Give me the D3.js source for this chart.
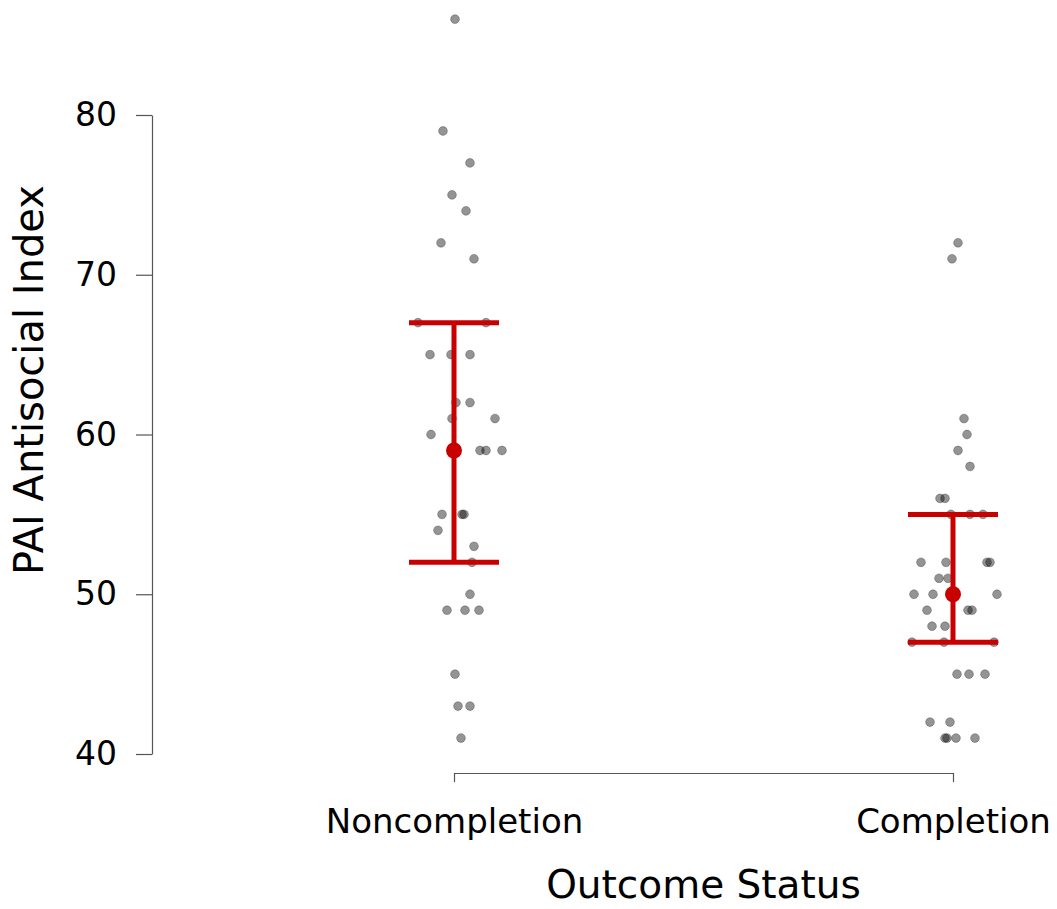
<!DOCTYPE html>
<html>
<head>
<meta charset="utf-8">
<script src="https://cdn.jsdelivr.net/npm/d3@7"></script>
<style>
  html, body { margin: 0; padding: 0; background: #fff; }
  svg text { font-family: "DejaVu Sans", sans-serif; fill: #000; }
</style>
</head>
<body>
<svg id="chart" width="1057" height="909"></svg>
<script>
// categories and raw scores (x jitter in px from the group centre)
var categories = ['Noncompletion', 'Completion'];

var noncompletionScores = [86, 79, 77, 75, 74, 72, 71, 67, 67, 65, 65, 65, 62, 62, 61, 61, 60,
  59, 59, 59, 55, 55, 55, 54, 53, 52, 50, 49, 49, 49, 45, 43, 43, 41];
var noncompletionJitter = [1, -11, 16, -2, 12, -13, 20, -36, 32, -24, -3, 16, 2, 16, -2, 41, -23,
  26, 32, 48, -12, 8, 10, -16, 20, 18, 16, -7, 11, 25, 1, 4, 16, 7];

var completionScores = [72, 71, 61, 60, 59, 58, 56, 56, 55, 55, 55, 52, 52, 52, 52, 51, 51,
  50, 50, 50, 49, 49, 49, 48, 48, 47, 47, 47, 45, 45, 45, 42, 42, 41, 41, 41, 41];
var completionJitter = [5, -1, 11, 14, 5, 17, -13, -8, -2, 17, 30, -32, -7, 34, 37, -14, -5,
  -39, -20, 44, -26, 15, 19, -21, -8, -41, -9, 41, 4, 16, 32, -23, -3, -8, -6, 3, 22];

// centre point and error bar ends
var centres = [59, 50];
var lowers = [52, 47];
var uppers = [67, 55];

var yTicks = [40, 50, 60, 70, 80];

var svg = d3.select('#chart');

var y = d3.scaleLinear().domain([40, 80]).range([754, 115]);
var x = d3.scalePoint().domain(categories).range([454, 953]);

// y axis
var yAxis = svg.append('g')
  .attr('transform', 'translate(152,0)')
  .call(d3.axisLeft(y).tickValues(yTicks).tickSize(16).tickSizeOuter(0).tickPadding(19));
yAxis.select('.domain').attr('stroke', '#555').attr('stroke-width', 1.2);
yAxis.selectAll('.tick line').attr('stroke', '#555').attr('stroke-width', 1.2);
yAxis.selectAll('.tick text').style('font-size', '33px').attr('fill', '#000');

// x axis
var xAxis = svg.append('g')
  .attr('transform', 'translate(0,773)')
  .call(d3.axisBottom(x).tickSize(9).tickSizeOuter(0).tickPadding(27));
xAxis.select('.domain').attr('stroke', '#555').attr('stroke-width', 1.2);
xAxis.selectAll('.tick line').attr('stroke', '#555').attr('stroke-width', 1.2);
xAxis.selectAll('.tick text').style('font-size', '34px').attr('fill', '#000');

// axis titles
svg.append('text')
  .attr('transform', 'translate(43,380)rotate(-90)')
  .attr('text-anchor', 'middle')
  .style('font-size', '40px')
  .text('PAI Antisocial Index');

svg.append('text')
  .attr('x', (454 + 953) / 2)
  .attr('y', 898)
  .attr('text-anchor', 'middle')
  .style('font-size', '39px')
  .text('Outcome Status');

// raw points
var groups = [
  {cat: categories[0], scores: noncompletionScores, jitter: noncompletionJitter},
  {cat: categories[1], scores: completionScores, jitter: completionJitter}
];

groups.forEach(function(g) {
  svg.append('g').selectAll('circle')
    .data(g.scores)
    .enter().append('circle')
      .attr('cx', function(d, i) { return x(g.cat) + g.jitter[i]; })
      .attr('cy', function(d) { return y(d); })
      .attr('r', 4.4)
      .attr('fill', 'rgba(0,0,0,0.42)')
      .attr('stroke', 'rgba(0,0,0,0.25)')
      .attr('stroke-width', 1);
});

// error bars
var red = '#c80000';
var capHalf = 45;
var bars = svg.append('g');
categories.forEach(function(c, i) {
  var cx = x(c);
  bars.append('line')
    .attr('x1', cx).attr('x2', cx)
    .attr('y1', y(lowers[i])).attr('y2', y(uppers[i]))
    .attr('stroke', red).attr('stroke-width', 5);
  [lowers[i], uppers[i]].forEach(function(v) {
    bars.append('line')
      .attr('x1', cx - capHalf).attr('x2', cx + capHalf)
      .attr('y1', y(v)).attr('y2', y(v))
      .attr('stroke', red).attr('stroke-width', 5);
  });
  bars.append('circle')
    .attr('cx', cx).attr('cy', y(centres[i]))
    .attr('r', 8)
    .attr('fill', red);
});
</script>
</body>
</html>
